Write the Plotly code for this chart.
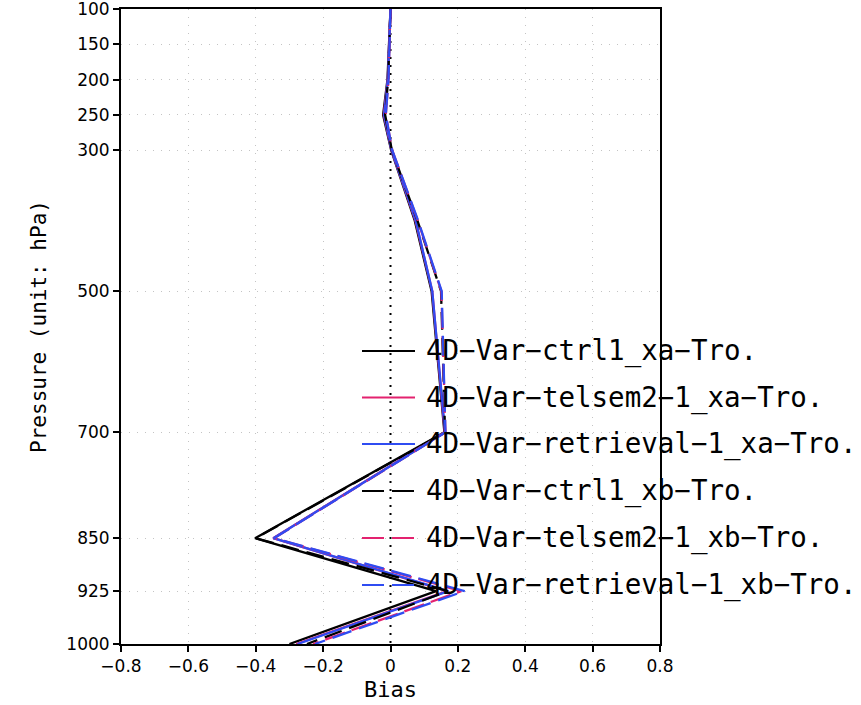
import plotly.graph_objects as go

# Pressure levels (hPa) and bias profiles for each experiment
levels = [100, 150, 200, 250, 300, 400, 500, 700, 850, 925, 1000]

ctrl1_xa = [0.0, -0.004, -0.009, -0.022, 0.002, 0.072, 0.122, 0.160, -0.402, 0.135, -0.300]
telsem2_1_xa = [0.0, -0.003, -0.008, -0.020, 0.003, 0.074, 0.124, 0.161, -0.348, 0.168, -0.280]
retrieval_1_xa = [0.0, -0.003, -0.008, -0.019, 0.003, 0.075, 0.124, 0.162, -0.348, 0.172, -0.276]
ctrl1_xb = [0.0, -0.003, -0.007, -0.016, 0.004, 0.080, 0.150, 0.162, -0.400, 0.170, -0.248]
telsem2_1_xb = [0.0, -0.002, -0.006, -0.014, 0.005, 0.081, 0.151, 0.163, -0.346, 0.210, -0.230]
retrieval_1_xb = [0.0, -0.002, -0.006, -0.014, 0.005, 0.082, 0.152, 0.163, -0.346, 0.220, -0.224]

series_names = [
    "4D−Var−ctrl1_xa−Tro.",
    "4D−Var−telsem2−1_xa−Tro.",
    "4D−Var−retrieval−1_xa−Tro.",
    "4D−Var−ctrl1_xb−Tro.",
    "4D−Var−telsem2−1_xb−Tro.",
    "4D−Var−retrieval−1_xb−Tro.",
]
series_values = [ctrl1_xa, telsem2_1_xa, retrieval_1_xa, ctrl1_xb, telsem2_1_xb, retrieval_1_xb]

pressure_ticks = [100, 150, 200, 250, 300, 500, 700, 850, 925, 1000]

BLACK = "#000000"
RED = "#e3226f"
BLUE = "#2f4cf2"
colors = [BLACK, RED, BLUE, BLACK, RED, BLUE]
# long-dash patterns for the first-guess (xb) profiles, slightly staggered
line_dashes = ["solid", "solid", "solid", "18px,8px", "21px,7px", "20px,8px"]
legend_dashes = ["solid", "solid", "solid", "22px,8px", "22px,8px", "22px,8px"]

W, H = 861, 705
ML, MR, MT, MB = 121, 201, 9, 61
PW, PH = W - ML - MR, H - MT - MB


def px_to_paper_x(px):
    return (px - ML) / PW


def px_to_paper_y(py):
    return (H - MB - py) / PH


fig = go.Figure()

for name, vals, c, d in zip(series_names, series_values, colors, line_dashes):
    fig.add_trace(go.Scatter(
        x=vals, y=levels, mode="lines", name=name,
        line=dict(color=c, width=2.3, dash=d),
        showlegend=False,
    ))

# dotted zero-bias reference line
fig.add_shape(type="line", xref="x", yref="y", x0=0, x1=0, y0=100, y1=1000,
              line=dict(color="black", width=2, dash="2px,6px"), layer="between")

# legend drawn inside the frame: sample line + label per experiment
row_y = [351, 397.5, 444, 491, 538, 585]
for name, c, d, ry in zip(series_names, colors, legend_dashes, row_y):
    yp = px_to_paper_y(ry)
    fig.add_shape(type="line", xref="paper", yref="paper",
                  x0=px_to_paper_x(362), x1=px_to_paper_x(415), y0=yp, y1=yp,
                  line=dict(color=c, width=2, dash=d))
    fig.add_annotation(xref="paper", yref="paper", x=px_to_paper_x(424), y=yp,
                       text=name, showarrow=False, xanchor="left", yanchor="middle",
                       font=dict(family="DejaVu Sans Mono", size=27.5, color="black"))

axis_font = dict(family="DejaVu Sans", size=17, color="black")

fig.update_xaxes(
    range=[-0.8, 0.8], dtick=0.2, tick0=-0.8,
    showline=True, mirror=True, linecolor="black", linewidth=2,
    ticks="outside", ticklen=6, tickwidth=1.5, tickcolor="black",
    showgrid=True, gridcolor="#c4c4c4", gridwidth=1, griddash="1px,7px",
    zeroline=False, tickfont=axis_font, automargin=False, ticklabeloverflow="allow",
    title=dict(text="Bias", font=dict(family="DejaVu Sans Mono", size=22, color="black"), standoff=6),
)
fig.update_yaxes(
    range=[1000, 100], tickvals=pressure_ticks,
    showline=True, mirror=True, linecolor="black", linewidth=2,
    ticks="outside", ticklen=6, tickwidth=1.5, tickcolor="black",
    showgrid=True, gridcolor="#c4c4c4", gridwidth=1, griddash="1px,7px",
    zeroline=False, tickfont=axis_font, automargin=False, ticklabeloverflow="allow",
    title=dict(text="Pressure (unit: hPa)", font=dict(family="DejaVu Sans Mono", size=21, color="black"), standoff=14),
)

fig.update_layout(
    width=W, height=H,
    margin=dict(l=ML, r=MR, t=MT, b=MB, autoexpand=False),
    paper_bgcolor="white", plot_bgcolor="white",
    showlegend=False,
)

fig.write_html("out.html")
